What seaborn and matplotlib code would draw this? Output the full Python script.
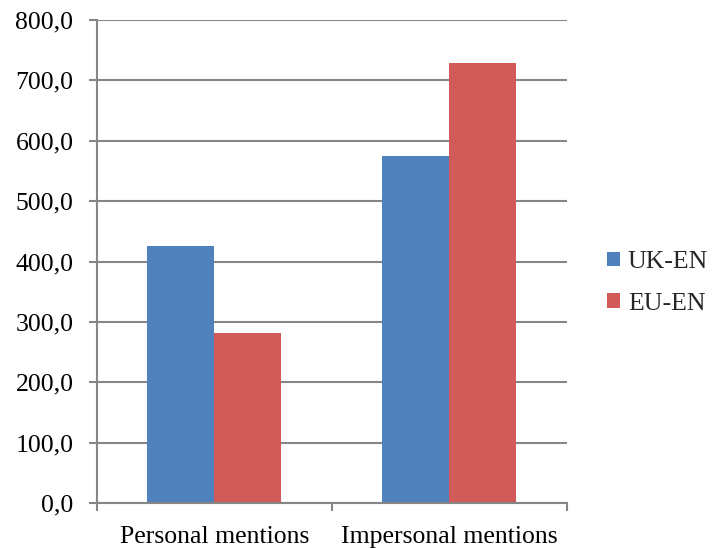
import matplotlib
matplotlib.use("Agg")
import matplotlib.pyplot as plt
from matplotlib.patches import Patch
from matplotlib.ticker import FixedLocator, FuncFormatter
import seaborn as sns
import pandas as pd

categories = ["Personal mentions", "Impersonal mentions"]
series = ["UK-EN", "EU-EN"]
uk_en = [425.0, 575.0]
eu_en = [282.0, 728.0]
colors = ["#4F81BD", "#D25A58"]

df = pd.DataFrame({
    "category": categories * 2,
    "variety": [series[0]] * 2 + [series[1]] * 2,
    "value": uk_en + eu_en,
})

sns.set_theme(style="white")
plt.rcParams["font.family"] = ["Liberation Serif", "DejaVu Serif"]

fig = plt.figure(figsize=(7.12, 5.48), dpi=100)
ax = fig.add_axes([0.136, 0.082, 0.660, 0.8815])

sns.barplot(data=df, x="category", y="value", hue="variety",
            order=categories, hue_order=series, palette=colors,
            width=0.571, gap=0, saturation=1, ax=ax, legend=False,
            edgecolor="none", linewidth=0)

grid_c = "#868686"
fs = 18.5
ax.set_ylim(0, 800)
ax.set_xlim(-0.5, 1.5)
ax.set_yticks(range(0, 801, 100))
ax.yaxis.set_major_formatter(FuncFormatter(lambda v, p: f"{v:.1f}".replace(".", ",")))
ax.yaxis.grid(True, color=grid_c, linewidth=1.5)
ax.set_axisbelow(True)

for s in ["top", "right"]:
    ax.spines[s].set_visible(False)
for s in ["left", "bottom"]:
    ax.spines[s].set_color(grid_c)
    ax.spines[s].set_linewidth(1.5)

ax.tick_params(axis="y", which="major", length=5.8, width=1.5, color=grid_c,
               labelsize=fs, pad=11, left=True, labelcolor="black")
ax.tick_params(axis="x", which="major", length=0, labelsize=fs, pad=16.5,
               labelcolor="black")
ax.xaxis.set_minor_locator(FixedLocator([-0.5, 0.5, 1.5]))
ax.tick_params(axis="x", which="minor", length=6, width=1.5, color=grid_c,
               bottom=True)
ax.set_xlabel("")
ax.set_ylabel("")

handles = [Patch(facecolor=c, edgecolor="none", label=s) for c, s in zip(colors, series)]
fig.legend(handles=handles, loc="center left", bbox_to_anchor=(0.853, 0.484),
           frameon=False, fontsize=fs, handlelength=0.5, handleheight=0.5,
           handletextpad=0.3, labelspacing=0.76, borderpad=0, borderaxespad=0)

fig.savefig("out.png", dpi=100, facecolor="white")
